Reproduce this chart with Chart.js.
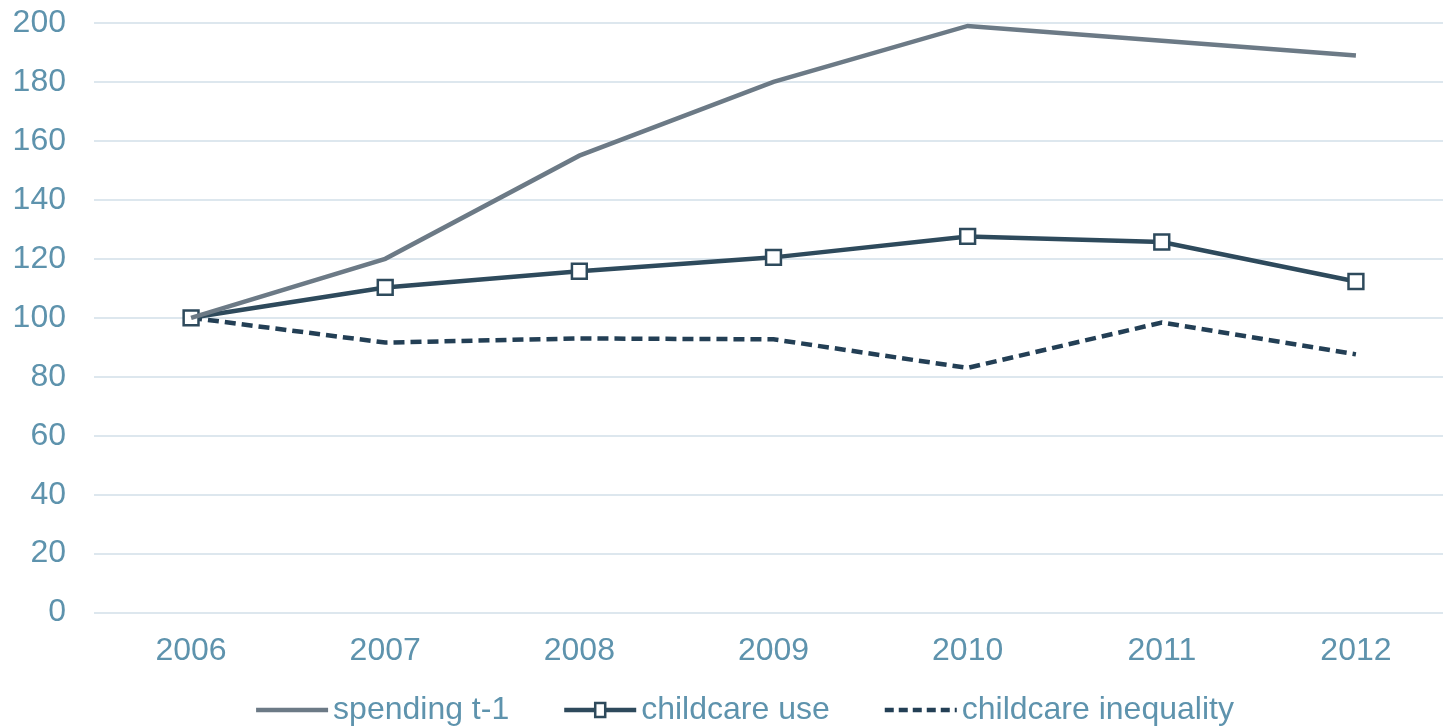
<!DOCTYPE html>
<html>
<head>
<meta charset="utf-8">
<script src="https://cdn.jsdelivr.net/npm/chart.js@4/dist/chart.umd.min.js"></script>
<style>
    html, body { margin: 0; padding: 0; background: #fff; overflow: hidden; }
    #wrap { width: 1466px; height: 727px; }
</style>
</head>
<body>
<div id="wrap"><canvas id="indexChart"></canvas></div>
<script>
// Index values, 2006 = 100
const years = ['2006', '2007', '2008', '2009', '2010', '2011', '2012'];
const spendingLag = [100, 120, 155, 180, 199, 194, 189];
const childcareUse = [100, 110.3, 115.8, 120.5, 127.6, 125.7, 112.3];
const childcareInequality = [100, 91.6, 93, 92.7, 83, 98.4, 87.6];

const labelColor = '#5e93ad';
const gridColor = '#dde7ee';
const fontFamily = '"Liberation Sans", Arial, sans-serif';
const font = { family: fontFamily, size: 32 };

// Bottom legend: short line sample (with the marker if the series has one) then the label
const lineLegend = {
    id: 'lineLegend',
    afterDraw(chart) {
        const ctx = chart.ctx;
        const sets = chart.data.datasets;
        const lineW = 72, textGap = 5, itemGap = 55;
        const cy = 710;
        ctx.save();
        ctx.font = font.size + 'px ' + fontFamily;
        const widths = sets.map(ds => lineW + textGap + ctx.measureText(ds.label).width);
        const total = widths.reduce((a, b) => a + b, 0) + itemGap * (sets.length - 1);
        let x = 745 - total / 2;
        sets.forEach((ds, i) => {
            ctx.strokeStyle = ds.borderColor;
            ctx.lineWidth = ds.borderWidth;
            ctx.setLineDash(ds.borderDash ? [9, 5] : []);
            ctx.beginPath();
            ctx.moveTo(x, cy);
            ctx.lineTo(x + lineW, cy);
            ctx.stroke();
            ctx.setLineDash([]);
            if (ds.pointRadius) {
                ctx.fillStyle = ds.pointBackgroundColor;
                ctx.lineWidth = ds.pointBorderWidth;
                ctx.fillRect(x + lineW / 2 - 5, cy - 7, 10, 14);
                ctx.strokeRect(x + lineW / 2 - 5, cy - 7, 10, 14);
            }
            ctx.fillStyle = labelColor;
            ctx.textBaseline = 'middle';
            ctx.textAlign = 'left';
            ctx.fillText(ds.label, x + lineW + textGap, cy);
            x += widths[i] + itemGap;
        });
        ctx.restore();
    }
};

const ctx = document.getElementById('indexChart');
new Chart(ctx, {
    type: 'line',
    data: {
        labels: years,
        datasets: [
            {
                label: 'spending t-1',
                data: spendingLag,
                borderColor: '#6c7a86',
                borderWidth: 4.5,
                pointRadius: 0,
                tension: 0
            },
            {
                label: 'childcare use',
                data: childcareUse,
                borderColor: '#2e4a5c',
                borderWidth: 4.5,
                pointStyle: 'rect',
                pointRadius: 10.5,
                pointBorderWidth: 2.5,
                pointBackgroundColor: '#fff',
                pointBorderColor: '#2e4a5c',
                tension: 0
            },
            {
                label: 'childcare inequality',
                data: childcareInequality,
                borderColor: '#233f55',
                borderWidth: 4.5,
                borderDash: [11, 6],
                pointRadius: 0,
                tension: 0
            }
        ]
    },
    options: {
        responsive: true,
        maintainAspectRatio: false,
        animation: false,
        layout: {
            padding: { left: 0, right: 0, top: 23, bottom: 46 }
        },
        plugins: {
            tooltip: { enabled: false },
            legend: { display: false }
        },
        scales: {
            x: {
                offset: true,
                grid: { display: false },
                border: { display: false },
                ticks: { color: labelColor, font: font, padding: 11 }
            },
            y: {
                min: 0,
                max: 200,
                afterFit(scale) {
                    scale.width = 94;
                    scale.paddingTop = 0;
                    scale.paddingBottom = 0;
                },
                grid: { color: gridColor, lineWidth: 2, drawTicks: false },
                border: { display: false },
                ticks: { stepSize: 20, color: labelColor, font: font, padding: 28 }
            }
        }
    },
    plugins: [lineLegend]
});
</script>
</body>
</html>
